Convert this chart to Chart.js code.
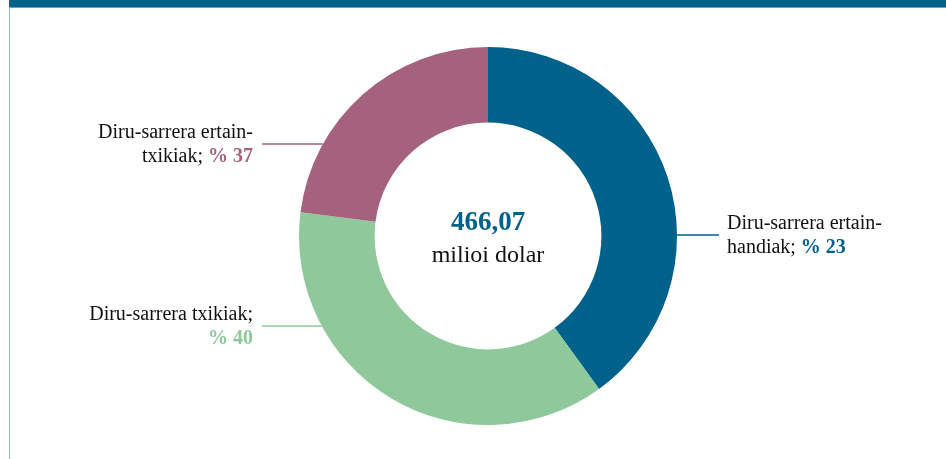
<!DOCTYPE html>
<html>
<head>
<meta charset="utf-8">
<script src="https://cdn.jsdelivr.net/npm/chart.js@4/dist/chart.umd.min.js"></script>
<style>
	html, body { margin: 0; padding: 0; background: #fff; }
	.frame { position: absolute; left: 0; top: 0; width: 946px; height: 459px; overflow: hidden; }
	.band { position: absolute; left: 9px; top: 0; right: 0; height: 7px; background: #00618a; border-bottom: 1px solid #6a9fbb; }
	.edge { position: absolute; left: 9px; top: 7px; bottom: 0; width: 1px; background: #8fbcd3; }
	canvas { position: absolute; left: 0; top: 0; }
</style>
</head>
<body>
<div class="frame">
	<canvas id="chart" width="946" height="459"></canvas>
	<div class="band"></div>
	<div class="edge"></div>
</div>
<script>
// slices in drawing order, clockwise from 12 o'clock
const categories = ['Diru-sarrera ertain-handiak', 'Diru-sarrera txikiak', 'Diru-sarrera ertain-txikiak'];
const shares = [40, 37, 23];
// percentages as printed next to each slice
const labelPercents = ['% 23', '% 40', '% 37'];
const colors = ['#00618a', '#8fc89b', '#a5627e'];
const totalValue = '466,07';
const totalUnit = 'milioi dolar';

const SERIF = '"Liberation Serif", "DejaVu Serif", serif';

// label layout, offsets from the donut centre
const labelLayout = [
	{ lines: ['Diru-sarrera ertain-', 'handiak; '], side: 'right', tx: 239, ty: -7, ly: -1, lineEnd: 231 },
	{ lines: ['Diru-sarrera txikiak;', ''], side: 'left', tx: -235, ty: 84, ly: 90, lineEnd: -226 },
	{ lines: ['Diru-sarrera ertain-', 'txikiak; '], side: 'left', tx: -235, ty: -98, ly: -92, lineEnd: -226 },
];

const calloutPlugin = {
	id: 'callouts',
	afterDraw(chart) {
		const arc = chart.getDatasetMeta(0).data[0];
		if (!arc) return;
		const { x: cx, y: cy, outerRadius: r } = arc;
		const ctx = chart.ctx;
		ctx.save();

		// centre text
		ctx.textAlign = 'center';
		ctx.textBaseline = 'alphabetic';
		ctx.fillStyle = colors[0];
		ctx.font = 'bold 27px ' + SERIF;
		ctx.fillText(totalValue, cx, cy - 6);
		ctx.fillStyle = '#111';
		ctx.font = '24px ' + SERIF;
		ctx.fillText(totalUnit, cx, cy + 26);

		labelLayout.forEach((lab, i) => {
			const y = cy + lab.ly;
			const dx = Math.sqrt(Math.max(r * r - lab.ly * lab.ly, 0));
			const edgeX = lab.side === 'right' ? cx + dx : cx - dx;

			ctx.strokeStyle = colors[i];
			ctx.lineWidth = 1.3;
			ctx.beginPath();
			ctx.moveTo(edgeX, y);
			ctx.lineTo(cx + lab.lineEnd, y);
			ctx.stroke();

			const tx = cx + lab.tx;
			const b1 = cy + lab.ty;
			const b2 = b1 + 24;
			ctx.font = '20px ' + SERIF;
			ctx.fillStyle = '#111';
			const pctFont = 'bold 20px ' + SERIF;

			if (lab.side === 'right') {
				ctx.textAlign = 'left';
				ctx.fillText(lab.lines[0], tx, b1);
				ctx.fillText(lab.lines[1], tx, b2);
				const w = ctx.measureText(lab.lines[1]).width;
				ctx.font = pctFont;
				ctx.fillStyle = colors[i];
				ctx.fillText(labelPercents[i], tx + w, b2);
			} else {
				ctx.textAlign = 'right';
				ctx.fillText(lab.lines[0], tx, b1);
				ctx.font = pctFont;
				const pw = ctx.measureText(labelPercents[i]).width;
				ctx.fillStyle = colors[i];
				ctx.fillText(labelPercents[i], tx, b2);
				ctx.font = '20px ' + SERIF;
				ctx.fillStyle = '#111';
				ctx.fillText(lab.lines[1], tx - pw, b2);
			}
		});
		ctx.restore();
	}
};

new Chart(document.getElementById('chart').getContext('2d'), {
	type: 'doughnut',
	data: {
		labels: categories,
		datasets: [{
			data: shares,
			backgroundColor: colors,
			borderWidth: 0,
			hoverOffset: 0,
		}]
	},
	options: {
		responsive: false,
		animation: false,
		cutout: '60%',
		layout: { padding: { left: 299, right: 269, top: 47, bottom: 34 } },
		plugins: {
			legend: { display: false },
			tooltip: { enabled: false },
		},
	},
	plugins: [calloutPlugin],
});
</script>
</body>
</html>
